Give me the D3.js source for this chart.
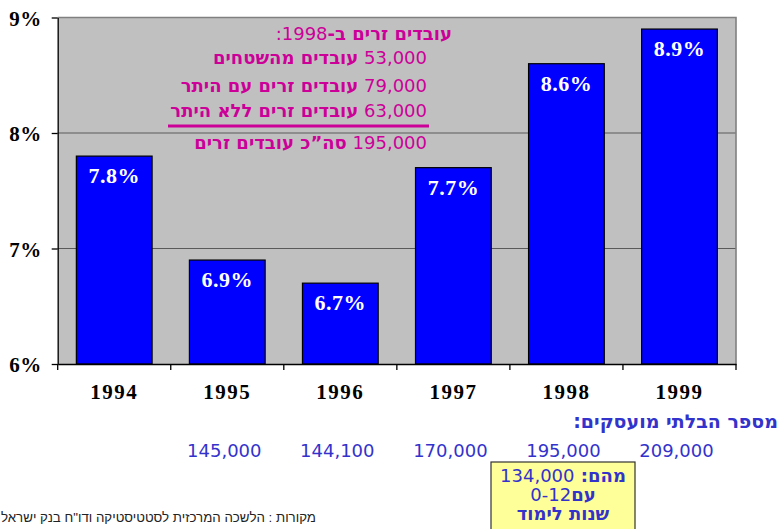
<!DOCTYPE html>
<html><head><meta charset="utf-8">
<script src="https://cdn.jsdelivr.net/npm/d3@7"></script>
<style>body{margin:0;background:#fff;} svg{display:block}</style>
</head><body><svg id="c" width="783" height="529"></svg>
<script>
const years = ["1994","1995","1996","1997","1998","1999"];
const rates = [7.8, 6.9, 6.7, 7.7, 8.6, 8.9];
const rateLabels = ["7.8%","6.9%","6.7%","7.7%","8.6%","8.9%"];
const yTicks = [6, 7, 8, 9];
const yTickLabels = ["6%","7%","8%","9%"];
const unemployedTitle = "מספר הבלתי מועסקים:";
const unemployedYears = ["1995","1996","1997","1998","1999"];
const unemployedCounts = ["145,000","144,100","170,000","195,000","209,000"];
const foreignTitleText = "עובדים זרים ב-";
const foreignTitleYear = "1998:";
const foreignNumbers = ["53,000","79,000","63,000","195,000"];
const foreignLabels = ["עובדים מהשטחים","עובדים זרים עם היתר","עובדים זרים ללא היתר","סה”כ עובדים זרים"];
const noteNumber = "134,000";
const noteLines = ["מהם: ", "עם", "0-12", "שנות לימוד"];
const sourceText = "מקורות : הלשכה המרכזית לסטטיסטיקה ודו\"ח בנק ישראל , 1998";

const svg = d3.select("#c");
const L = 57.7, R = 736, T = 17.5, B = 364;
const x = d3.scaleBand().domain(years).range([L, R]).paddingInner(0.33).paddingOuter(0.165);
const y = d3.scaleLinear().domain([6, 9]).range([B, T]);
const SANS = "'DejaVu Sans', Verdana, sans-serif";
const SERIF = "'Liberation Serif', 'Times New Roman', serif";

// plot background
svg.append("rect").attr("x", L).attr("y", T).attr("width", R - L).attr("height", B - T).attr("fill", "#c0c0c0");
// gridlines
svg.append("g").selectAll("line").data(yTicks.filter(d => d > 6 && d < 9)).join("line")
  .attr("x1", L).attr("x2", R).attr("y1", d => y(d)).attr("y2", d => y(d))
  .attr("stroke", "#5a5a5a").attr("stroke-width", 1.2);
// top & right frame
svg.append("path").attr("d", `M${L},${y(9)}H${R}V${B}`).attr("fill", "none").attr("stroke", "#808080").attr("stroke-width", 1.6);

// bars
const step = x.step();
svg.append("g").selectAll("rect").data(rates).join("rect")
  .attr("x", (d, i) => x(years[i])).attr("width", x.bandwidth())
  .attr("y", d => y(d)).attr("height", d => B - y(d))
  .attr("fill", "#0000ff").attr("stroke", "#000").attr("stroke-width", 1.2);
svg.append("g").selectAll("text").data(rates).join("text")
  .attr("x", (d, i) => x(years[i]) + x.bandwidth() / 2).attr("y", d => y(d) + 27)
  .attr("text-anchor", "middle").attr("fill", "#fff")
  .style("font", `bold 22px ${SERIF}`).style("letter-spacing", "0.5px")
  .text((d, i) => rateLabels[i]);

// y axis
const yAxis = svg.append("g").attr("transform", `translate(${L},0)`)
  .call(d3.axisLeft(y).tickValues(yTicks).tickFormat((d, i) => yTickLabels[i]).tickSize(6).tickSizeOuter(0).tickPadding(10));
yAxis.select(".domain").attr("stroke", "#000").attr("stroke-width", 1.3);
yAxis.selectAll(".tick line").attr("stroke", "#000").attr("stroke-width", 1.3);
yAxis.selectAll(".tick text").attr("dy", "0.36em").style("font", `bold 21px ${SERIF}`).attr("fill", "#000").style("letter-spacing", "0.5px");

// x axis
const xAxis = svg.append("g").attr("transform", `translate(0,${B})`)
  .call(d3.axisBottom(x).tickSize(0).tickSizeOuter(0).tickPadding(20));
xAxis.select(".domain").attr("stroke", "#000").attr("stroke-width", 1.3);
xAxis.selectAll(".tick text").style("font", `bold 21px ${SERIF}`).attr("fill", "#000").style("letter-spacing", "1.5px").attr("dy", "0.71em");
svg.append("g").selectAll("line").data(d3.range(years.length + 1)).join("line")
  .attr("x1", i => L + i * step).attr("x2", i => L + i * step)
  .attr("y1", B).attr("y2", B + 6).attr("stroke", "#000").attr("stroke-width", 1.3);

// foreign workers annotation
const PINK = "#cc0099";
const ann = svg.append("g").attr("fill", PINK).style("font-size", "18px").style("font-family", SANS);
const t0 = ann.append("text").attr("x", 452).attr("y", 40).attr("direction", "rtl").style("direction", "rtl").attr("text-anchor", "start");
t0.append("tspan").style("font-weight", "bold").text(foreignTitleText);
t0.append("tspan").text(foreignTitleYear);
const lineY = [64, 92, 117, 149];
foreignNumbers.forEach((n, i) => {
  const t = ann.append("text").attr("x", 427).attr("y", lineY[i]).attr("direction", "rtl").style("direction", "rtl").attr("text-anchor", "start");
  t.append("tspan").text(n + " ");
  t.append("tspan").style("font-weight", "bold").text(foreignLabels[i]);
});
ann.append("line").attr("x1", 168).attr("x2", 429).attr("y1", 126).attr("y2", 126).attr("stroke", PINK).attr("stroke-width", 3);

// unemployed
const BLUE = "#3333cc";
svg.append("text").attr("x", 778).attr("y", 428).attr("direction", "rtl").style("direction", "rtl").attr("text-anchor", "start")
  .attr("fill", BLUE).style("font", `bold 19px ${SANS}`).text(unemployedTitle);
svg.append("g").selectAll("text").data(unemployedCounts).join("text")
  .attr("x", (d, i) => x(unemployedYears[i]) + x.bandwidth() / 2 - 3).attr("y", 457)
  .attr("text-anchor", "middle").attr("fill", BLUE).style("font", `18px ${SANS}`).text(d => d);

// note box
svg.append("rect").attr("x", 491).attr("y", 462).attr("width", 144).attr("height", 80)
  .attr("fill", "#ffff99").attr("stroke", "#333").attr("stroke-width", 1.2);
const nb = svg.append("g").attr("fill", BLUE).style("font-size", "18px").style("font-family", SANS);
const n1 = nb.append("text").attr("x", 563).attr("y", 482).attr("direction", "rtl").style("direction", "rtl").attr("text-anchor", "middle");
n1.append("tspan").style("font-weight", "bold").text(noteLines[0]);
n1.append("tspan").text(noteNumber);
const n2 = nb.append("text").attr("x", 563).attr("y", 501).attr("direction", "rtl").style("direction", "rtl").attr("text-anchor", "middle");
n2.append("tspan").style("font-weight", "bold").text(noteLines[1]);
n2.append("tspan").text(noteLines[2]);
nb.append("text").attr("x", 563).attr("y", 520).attr("direction", "rtl").style("direction", "rtl").attr("text-anchor", "middle")
  .style("font-weight", "bold").text(noteLines[3]);

// source
svg.append("text").attr("x", 316).attr("y", 522).attr("direction", "rtl").style("direction", "rtl").attr("text-anchor", "start")
  .attr("fill", "#222").style("font", `13.3px 'Liberation Sans', Arial, sans-serif`).text(sourceText);
</script></body></html>
